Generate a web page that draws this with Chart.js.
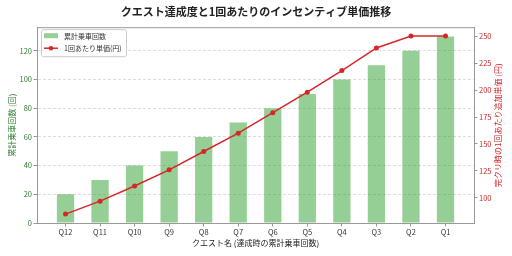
<!DOCTYPE html>
<html>
<head>
<meta charset="utf-8">
<script src="https://cdn.jsdelivr.net/npm/chart.js@4"></script>
<style>
  html, body { margin: 0; padding: 0; background: #fff; }
  #wrap { width: 512px; height: 256px; }
</style>
</head>
<body>
<div id="wrap"><canvas id="chart" width="512" height="256"></canvas></div>
<script>
const FONT = '"Noto Sans CJK JP", "Noto Sans", sans-serif'

const categories = ['Q12', 'Q11', 'Q10', 'Q9', 'Q8', 'Q7', 'Q6', 'Q5', 'Q4', 'Q3', 'Q2', 'Q1']
const rides = [20, 30, 40, 50, 60, 70, 80, 90, 100, 110, 120, 130]
const unitPrice = [85, 97, 111, 126, 143, 160, 179, 198, 218, 239, 250, 250]
const leftTicks = [0, 20, 40, 60, 80, 100, 120]
const rightTicks = [100, 125, 150, 175, 200, 225, 250]

const TITLE = 'クエスト達成度と1回あたりのインセンティブ単価推移'
const X_TITLE = 'クエスト名 (達成時の累計乗車回数)'
const Y_TITLE = '累計乗車回数 (回)'
const Y1_TITLE = '完クリ時の1回あたり追加単価 (円)'

const GREEN = 'rgba(44, 160, 44, 0.5)'
const GREEN_TEXT = '#2e7d32'
const RED = '#d62728'
const RED_TEXT = '#c62828'
const FRAME = '#999'

function toPoints(values) {
  return values.map((v, i) => ({ x: i, y: v }))
}

function setTicks(values) {
  return (axis) => { axis.ticks = values.map(value => ({ value })) }
}

// matplotlib-like padding around data
function paddedRange(values) {
  const min = Math.min(...values)
  const max = Math.max(...values)
  const pad = (max - min) * 0.05
  return { min: min - pad, max: max + pad }
}

const y1Range = paddedRange(unitPrice)

const frameTop = {
  id: 'frameTop',
  afterDraw(chart) {
    const { ctx, chartArea } = chart
    ctx.save()
    ctx.strokeStyle = FRAME
    ctx.lineWidth = 1
    ctx.beginPath()
    ctx.moveTo(chartArea.left, chartArea.top + 0.5)
    ctx.lineTo(chartArea.right, chartArea.top + 0.5)
    ctx.stroke()
    ctx.restore()
  }
}

const rightTitle = {
  id: 'rightTitle',
  afterDraw(chart) {
    const { ctx, chartArea } = chart
    ctx.save()
    ctx.translate(498, (chartArea.top + chartArea.bottom) / 2)
    ctx.rotate(-Math.PI / 2)
    ctx.font = '8px ' + FONT
    ctx.fillStyle = RED
    ctx.textAlign = 'center'
    ctx.textBaseline = 'middle'
    ctx.fillText(Y1_TITLE, 0, 0)
    ctx.restore()
  }
}

const innerLegend = {
  id: 'innerLegend',
  afterDraw(chart) {
    const { ctx, chartArea } = chart
    const [bars, line] = chart.data.datasets
    const x = chartArea.left + 4
    const y = chartArea.top + 2
    ctx.save()
    ctx.fillStyle = 'rgba(255,255,255,0.85)'
    ctx.strokeStyle = '#ccc'
    ctx.lineWidth = 1
    ctx.beginPath()
    ctx.roundRect(x + 0.5, y + 0.5, 85, 27, 2)
    ctx.fill()
    ctx.stroke()

    ctx.fillStyle = bars.backgroundColor
    ctx.fillRect(x + 3, y + 4, 14, 5)

    ctx.strokeStyle = line.borderColor
    ctx.lineWidth = 1.5
    ctx.beginPath()
    ctx.moveTo(x + 3, y + 19)
    ctx.lineTo(x + 17, y + 19)
    ctx.stroke()
    ctx.fillStyle = line.borderColor
    ctx.beginPath()
    ctx.arc(x + 10, y + 19, 2.3, 0, Math.PI * 2)
    ctx.fill()

    ctx.font = '7px ' + FONT
    ctx.fillStyle = '#333'
    ctx.textBaseline = 'middle'
    ctx.fillText(bars.label, x + 23, y + 7)
    ctx.fillText(line.label, x + 23, y + 19)
    ctx.restore()
  }
}

new Chart(document.getElementById('chart'), {
  type: 'bar',
  data: {
    datasets: [
      {
        type: 'bar',
        label: '累計乗車回数',
        data: toPoints(rides),
        backgroundColor: GREEN,
        borderWidth: 0,
        barPercentage: 0.5,
        categoryPercentage: 1,
        yAxisID: 'y',
        order: 2
      },
      {
        type: 'line',
        label: '1回あたり単価(円)',
        data: toPoints(unitPrice),
        borderColor: RED,
        backgroundColor: RED,
        borderWidth: 1.5,
        pointRadius: 2.5,
        pointBackgroundColor: RED,
        pointBorderWidth: 0,
        tension: 0,
        yAxisID: 'y1',
        order: 1
      }
    ]
  },
  options: {
    responsive: false,
    animation: false,
    layout: { padding: 0 },
    plugins: {
      legend: { display: false },
      tooltip: { enabled: false },
      title: {
        display: true,
        text: TITLE,
        color: '#222',
        font: { family: FONT, size: 11, weight: 'bold' },
        padding: { top: 5, bottom: 9 }
      }
    },
    scales: {
      x: {
        type: 'linear',
        offset: false,
        min: -0.825,
        max: categories.length - 1 + 0.825,
        afterBuildTicks: setTicks(categories.map((c, i) => i)),
        afterFit: (s) => { s.height = 33 },
        ticks: {
          color: '#333',
          font: { family: FONT, size: 7.5 },
          padding: 1,
          maxRotation: 0,
          callback: (v) => categories[v]
        },
        grid: { offset: false, drawOnChartArea: false, tickLength: 3.5, tickColor: FRAME },
        border: { color: FRAME },
        title: {
          display: true,
          text: X_TITLE,
          color: '#222',
          font: { family: FONT, size: 8 },
          padding: { top: 0, bottom: 8 }
        }
      },
      y: {
        position: 'left',
        min: 0,
        max: Math.max(...rides) * 1.05,
        afterBuildTicks: setTicks(leftTicks),
        afterFit: (s) => { s.width = 37 },
        ticks: {
          color: GREEN_TEXT,
          font: { family: FONT, size: 7.5 },
          padding: 1.5
        },
        grid: {
          color: '#ddd',
          tickLength: 3.5,
          tickColor: FRAME,
          tickBorderDash: []
        },
        border: { color: FRAME, dash: [3, 2] },
        title: {
          display: true,
          text: Y_TITLE,
          color: GREEN_TEXT,
          font: { family: FONT, size: 8 },
          padding: { top: 7.5, bottom: 0 }
        }
      },
      y1: {
        position: 'right',
        min: y1Range.min,
        max: y1Range.max,
        afterBuildTicks: setTicks(rightTicks),
        afterFit: (s) => { s.width = 38 },
        ticks: {
          color: RED_TEXT,
          font: { family: FONT, size: 7.5 },
          padding: 1.5
        },
        grid: { drawOnChartArea: false, tickLength: 3.5, tickColor: FRAME },
        border: { color: FRAME }
      }
    }
  },
  plugins: [frameTop, rightTitle, innerLegend]
})
</script>
</body>
</html>
